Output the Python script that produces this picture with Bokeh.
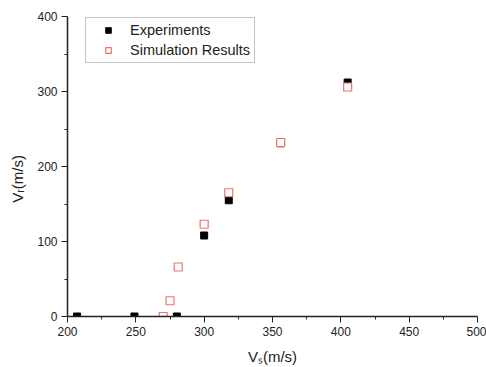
from bokeh.plotting import figure
from bokeh.models import Legend, LegendItem, FixedTicker
from bokeh.embed import file_html
from bokeh.resources import INLINE

exp_x = [207, 249, 280, 300, 318, 356, 405]
exp_y = [0, 0, 0, 108, 155, 231, 312]
sim_x = [270, 275, 281, 300, 318, 356, 405]
sim_y = [0, 21, 66, 123, 165, 232, 306]
x_ticks = [200, 250, 300, 350, 400, 450, 500]
y_ticks = [0, 100, 200, 300, 400]

FONT = "Liberation Sans"

p = figure(width=486, height=367, x_range=(200, 500), y_range=(0, 400),
           output_backend="svg", toolbar_location=None,
           min_border_left=67, min_border_right=9, min_border_top=16, min_border_bottom=50)
p.outline_line_color = None
p.grid.visible = False
p.background_fill_color = "white"
p.border_fill_color = "white"

r1 = p.scatter(exp_x, exp_y, marker="square", size=7, fill_color="black", line_color="black")
r2 = p.scatter(sim_x, sim_y, marker="square", size=8, fill_color="white", line_color="#f07070", line_width=1.2)

for ax in (p.xaxis[0], p.yaxis[0]):
    ax.axis_line_color = "#222222"
    ax.axis_line_width = 1.5
    ax.major_tick_line_color = "#222222"
    ax.minor_tick_line_color = "#222222"
    ax.major_tick_in = 0
    ax.major_tick_out = 6
    ax.minor_tick_in = 0
    ax.minor_tick_out = 3
    ax.major_label_standoff = 4
    ax.major_label_text_font = FONT
    ax.major_label_text_font_size = "12px"
    ax.major_label_text_color = "#222222"
    ax.axis_label_text_font = FONT
    ax.axis_label_text_font_size = "15px"
    ax.axis_label_text_font_style = "normal"
    ax.axis_label_text_color = "#222222"

p.xaxis[0].ticker = FixedTicker(ticks=x_ticks, minor_ticks=[225, 275, 325, 375, 425, 475])
p.yaxis[0].ticker = FixedTicker(ticks=y_ticks, minor_ticks=[50, 150, 250, 350])
p.xaxis[0].axis_label = "V\u209B(m/s)"
p.xaxis[0].axis_label_standoff = 9
p.yaxis[0].axis_label = "V\u1D63(m/s)" + "\u00A0" * 6
p.yaxis[0].axis_label_standoff = 8

legend = Legend(items=[LegendItem(label="Experiments", renderers=[r1]),
                       LegendItem(label="Simulation Results", renderers=[r2])],
                location=(18, 253))
legend.label_text_font = FONT
legend.label_text_font_size = "14.5px"
legend.label_text_color = "#222222"
legend.glyph_width = 36
legend.glyph_height = 14
legend.label_height = 14
legend.spacing = 4
legend.padding = 4
legend.margin = 0
legend.label_standoff = 4
legend.border_line_color = "#888888"
legend.border_line_width = 1
p.add_layout(legend, "center")

open("out.html", "w").write(file_html(p, INLINE))
